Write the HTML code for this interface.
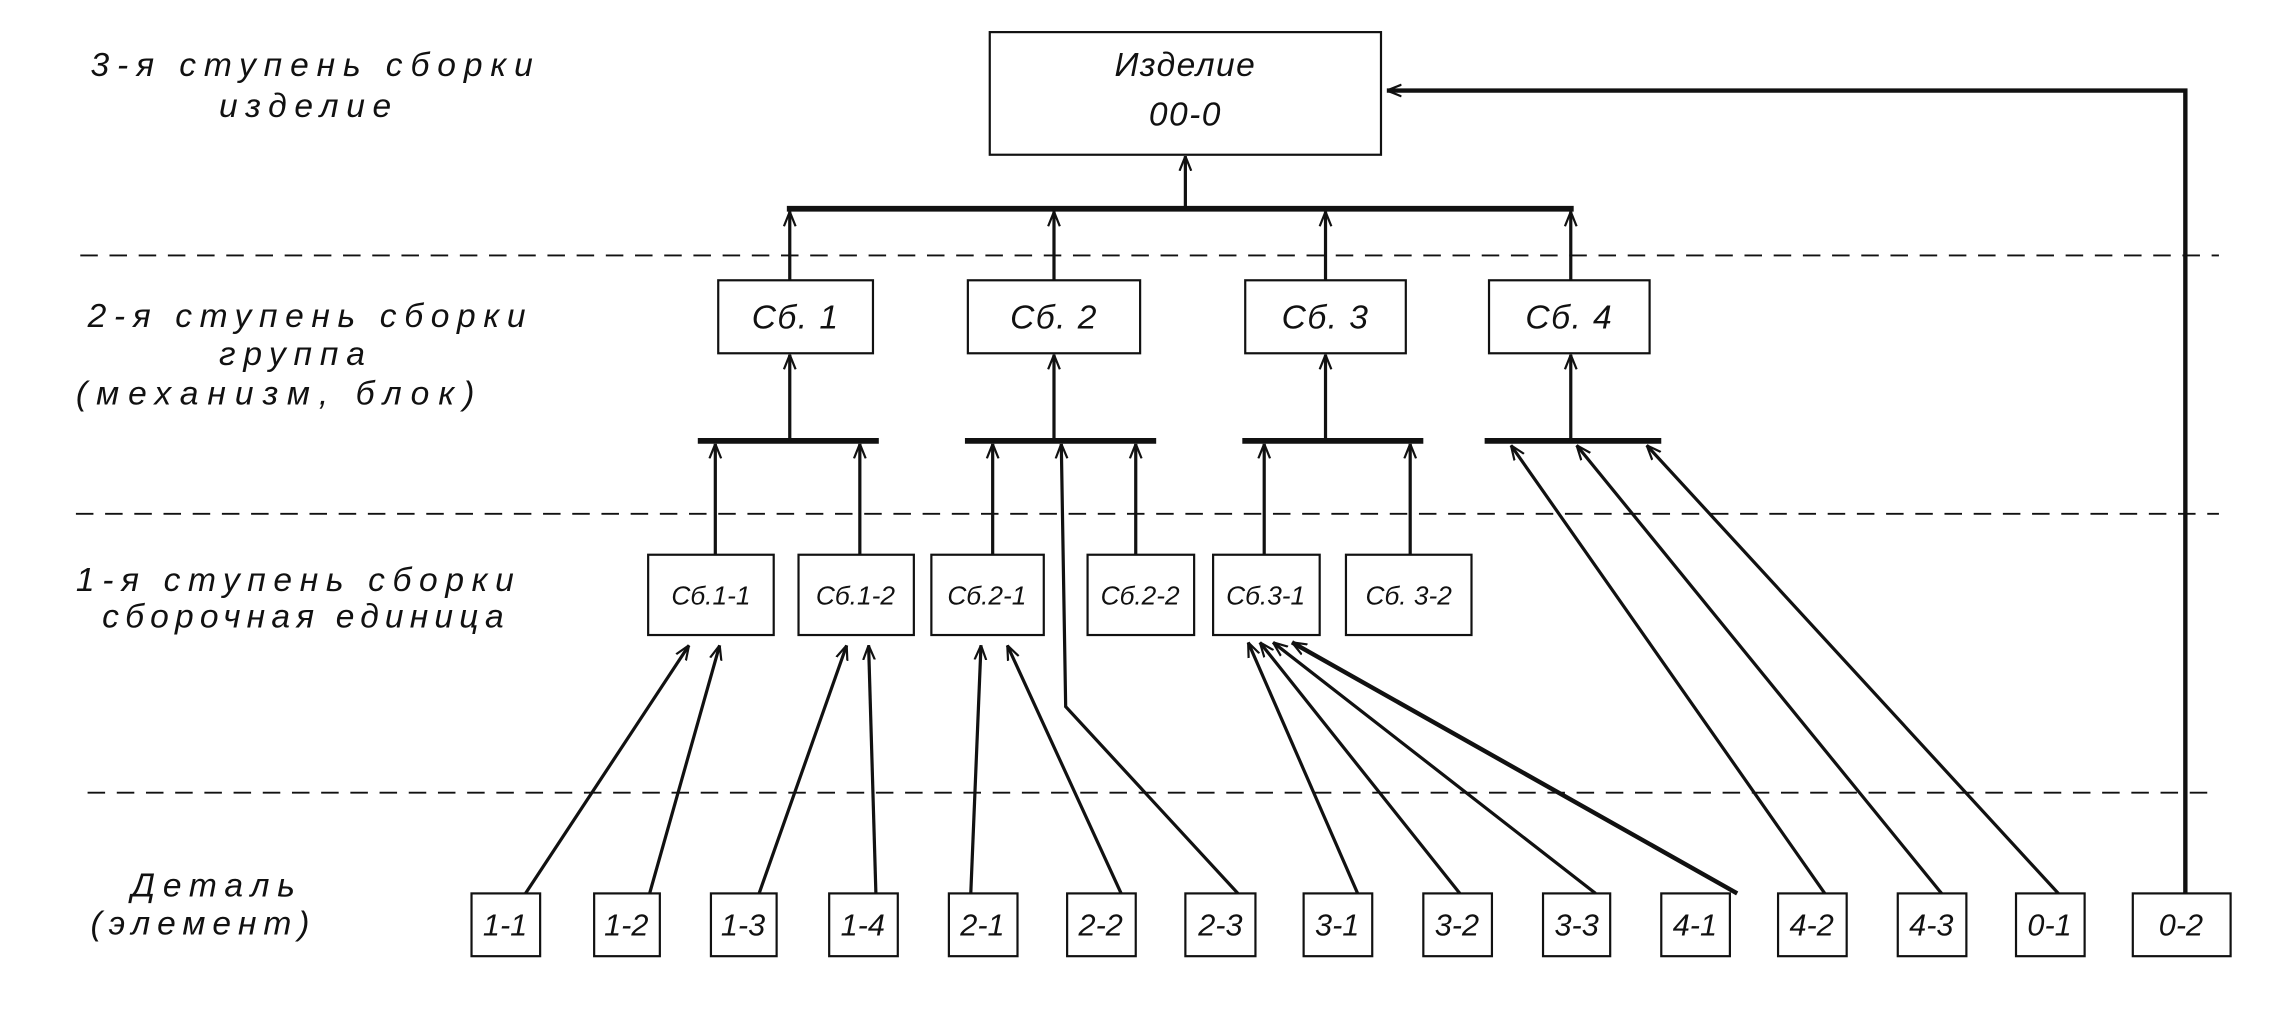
<!DOCTYPE html>
<html><head><meta charset="utf-8"><style>
html,body{margin:0;padding:0;background:#fff;}
svg{display:block}
text{font-family:"Liberation Sans","DejaVu Sans",sans-serif;font-style:italic;fill:#111;}
</style></head><body>
<svg width="2289" height="1021" viewBox="0 0 1568 699.4" preserveAspectRatio="none" xmlns="http://www.w3.org/2000/svg">
<defs>
<marker id="a" viewBox="0 0 10 10" refX="10" refY="5" markerWidth="10" markerHeight="10" orient="auto" markerUnits="userSpaceOnUse">
<path d="M0,1 L10,5 L0,9" fill="none" stroke="#111" stroke-width="1.5"/>
</marker>
</defs>
<g stroke="#111" stroke-width="1.3" stroke-dasharray="12,8">
<line x1="55" y1="175" x2="1520" y2="175"/>
<line x1="52" y1="352" x2="1520" y2="352"/>
<line x1="60" y1="543" x2="1520" y2="543"/>
</g>
<g fill="none" stroke="#111" stroke-width="1.5">
<rect x="678" y="22" width="268" height="84"/>
<rect x="492" y="192" width="106" height="50"/>
<rect x="663" y="192" width="118" height="50"/>
<rect x="853" y="192" width="110" height="50"/>
<rect x="1020" y="192" width="110" height="50"/>
<rect x="444" y="380" width="86" height="55"/>
<rect x="547" y="380" width="79" height="55"/>
<rect x="638" y="380" width="77" height="55"/>
<rect x="745" y="380" width="73" height="55"/>
<rect x="831" y="380" width="73" height="55"/>
<rect x="922" y="380" width="86" height="55"/>
<rect x="323" y="612" width="47" height="43"/>
<rect x="407" y="612" width="45" height="43"/>
<rect x="487" y="612" width="45" height="43"/>
<rect x="568" y="612" width="47" height="43"/>
<rect x="650" y="612" width="47" height="43"/>
<rect x="731" y="612" width="47" height="43"/>
<rect x="812" y="612" width="48" height="43"/>
<rect x="893" y="612" width="47" height="43"/>
<rect x="975" y="612" width="47" height="43"/>
<rect x="1057" y="612" width="46" height="43"/>
<rect x="1138" y="612" width="47" height="43"/>
<rect x="1218" y="612" width="47" height="43"/>
<rect x="1300" y="612" width="47" height="43"/>
<rect x="1381" y="612" width="47" height="43"/>
<rect x="1461" y="612" width="67" height="43"/>
</g>
<g stroke="#111" stroke-width="4">
<line x1="539" y1="143" x2="1078" y2="143"/>
<line x1="478" y1="302" x2="602" y2="302"/>
<line x1="661" y1="302" x2="792" y2="302"/>
<line x1="851" y1="302" x2="975" y2="302"/>
<line x1="1017" y1="302" x2="1138" y2="302"/>
</g>
<g stroke="#111" stroke-width="2.2" fill="none" marker-end="url(#a)">
<polyline points="1497,612 1497,62 950,62" stroke-width="3"/>
<line x1="812" y1="143" x2="812" y2="107"/>
<line x1="541" y1="192" x2="541" y2="145"/>
<line x1="722" y1="192" x2="722" y2="145"/>
<line x1="908" y1="192" x2="908" y2="145"/>
<line x1="1076" y1="192" x2="1076" y2="145"/>
<line x1="541" y1="302" x2="541" y2="243"/>
<line x1="722" y1="302" x2="722" y2="243"/>
<line x1="908" y1="302" x2="908" y2="243"/>
<line x1="1076" y1="302" x2="1076" y2="243"/>
<line x1="490" y1="380" x2="490" y2="304"/>
<line x1="589" y1="380" x2="589" y2="304"/>
<line x1="680" y1="380" x2="680" y2="304"/>
<line x1="778" y1="380" x2="778" y2="304"/>
<line x1="866" y1="380" x2="866" y2="304"/>
<line x1="966" y1="380" x2="966" y2="304"/>
<polyline points="848,612 730,484 727,304"/>
<line x1="360" y1="612" x2="472" y2="442"/>
<line x1="445" y1="612" x2="493" y2="442"/>
<line x1="520" y1="612" x2="580" y2="442"/>
<line x1="600" y1="612" x2="595" y2="442"/>
<line x1="665" y1="612" x2="672" y2="442"/>
<line x1="768" y1="612" x2="690" y2="442"/>
<line x1="930" y1="612" x2="855" y2="440"/>
<line x1="1000" y1="612" x2="863" y2="440"/>
<line x1="1093" y1="612" x2="872" y2="440"/>
<line x1="1190" y1="612" x2="885" y2="440" stroke-width="3"/>
<line x1="1250" y1="612" x2="1035" y2="305"/>
<line x1="1330" y1="612" x2="1080" y2="305"/>
<line x1="1410" y1="612" x2="1128" y2="305"/>
</g>
<g font-size="23">
<text x="62" y="52" textLength="303">3-я ступень сборки</text>
<text x="150" y="80" textLength="118">изделие</text>
<text x="60" y="224" textLength="300">2-я ступень сборки</text>
<text x="150" y="250" textLength="100">группа</text>
<text x="52" y="277" textLength="273">(механизм, блок)</text>
<text x="52" y="405" textLength="300">1-я ступень сборки</text>
<text x="70" y="430" textLength="275">сборочная единица</text>
<text x="90" y="614" textLength="112">Деталь</text>
<text x="62" y="640" textLength="150">(элемент)</text>
</g>
<g font-size="23" text-anchor="middle" letter-spacing="1">
<text x="812" y="52">Изделие</text>
<text x="812" y="86">00-0</text>
<text x="545" y="225">Сб. 1</text>
<text x="722" y="225">Сб. 2</text>
<text x="908" y="225">Сб. 3</text>
<text x="1075" y="225">Сб. 4</text>
</g>
<g font-size="18" text-anchor="middle">
<text x="487" y="414">Сб.1-1</text>
<text x="586" y="414">Сб.1-2</text>
<text x="676" y="414">Сб.2-1</text>
<text x="781" y="414">Сб.2-2</text>
<text x="867" y="414">Сб.3-1</text>
<text x="965" y="414">Сб. 3-2</text>
</g>
<g font-size="21" text-anchor="middle">
<text x="346" y="641">1-1</text>
<text x="429" y="641">1-2</text>
<text x="509" y="641">1-3</text>
<text x="591" y="641">1-4</text>
<text x="673" y="641">2-1</text>
<text x="754" y="641">2-2</text>
<text x="836" y="641">2-3</text>
<text x="916" y="641">3-1</text>
<text x="998" y="641">3-2</text>
<text x="1080" y="641">3-3</text>
<text x="1161" y="641">4-1</text>
<text x="1241" y="641">4-2</text>
<text x="1323" y="641">4-3</text>
<text x="1404" y="641">0-1</text>
<text x="1494" y="641">0-2</text>
</g>
</svg>
</body></html>
